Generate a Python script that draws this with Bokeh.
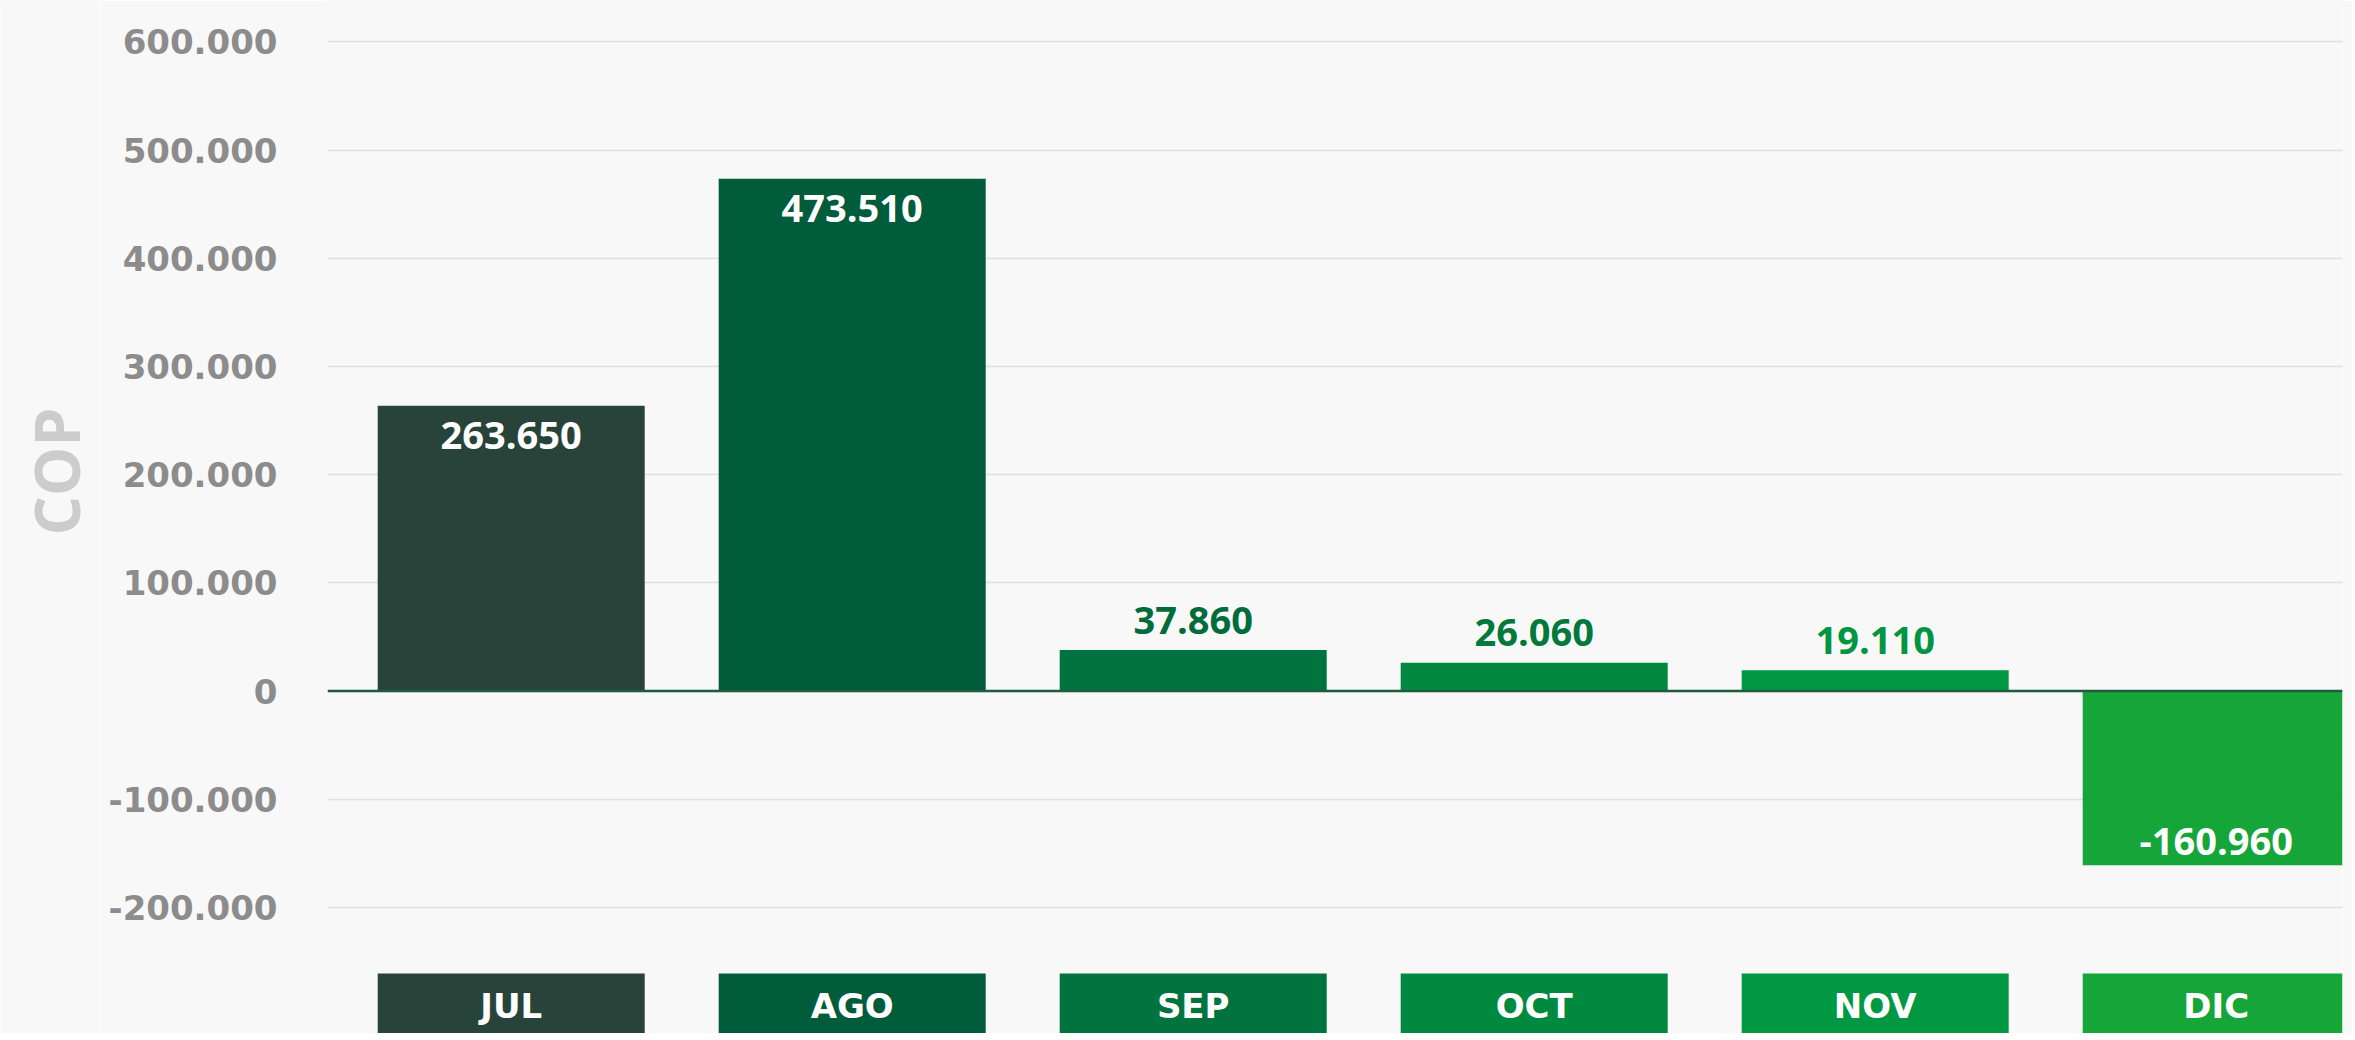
import math
from bokeh.plotting import figure
from bokeh.models import ColumnDataSource, Range1d, FixedTicker, CustomJSTickFormatter, Span, Spacer
from bokeh.layouts import column, row
from bokeh.core.properties import value
from bokeh.embed import file_html
from bokeh.resources import INLINE

# ---- data ----
months = ["JUL", "AGO", "SEP", "OCT", "NOV", "DIC"]
values = [263650, 473510, 37860, 26060, 19110, -160960]
y_ticks = [-200000, -100000, 0, 100000, 200000, 300000, 400000, 500000, 600000]
y_title = "COP"
bar_colors = ["#28443a", "#005c3a", "#00733f", "#00893f", "#009842", "#15a538"]
outside_label_colors = ["#ffffff", "#ffffff", "#006b3b", "#00793b", "#009540", "#ffffff"]

# ---- geometry (pixel mapping) ----
PX = 0.001082            # pixels per COP unit
ZERO_Y = 690.5           # zero line in figure pixels
MAIN_H = 1033
STRIP_H = 6
W = 2352
COP_W = 100
y_top = ZERO_Y / PX
y_bot = -(MAIN_H - ZERO_Y) / PX
box_top = -(973 - ZERO_Y) / PX
month_y = -(1005 - ZERO_Y) / PX
pitch = 341.0
FRAME_L = 327
FRAME_R = 2342
x_start = -(510.7 - FRAME_L) / pitch
x_end = x_start + (FRAME_R - FRAME_L) / pitch
bar_w = 267 / pitch

xs = list(range(len(months)))
label_txt = [f"{v:,}".replace(",", ".") for v in values]
inside = [abs(v) > 100000 for v in values]
offsets = []
for v, ins in zip(values, inside):
    if ins:
        offsets.append(30 if v > 0 else -24)
    else:
        offsets.append(-30)

src = ColumnDataSource(dict(x=xs, v=values, color=bar_colors, lab=label_txt,
                            lcol=outside_label_colors, off=offsets, m=months,
                            mb=[box_top] * len(xs), mbot=[y_bot - 5000] * len(xs),
                            my=[month_y] * len(xs)))

BG = "#f8f8f8"
p = figure(width=W - COP_W, height=MAIN_H, toolbar_location=None, output_backend="svg",
           x_range=Range1d(x_start, x_end), y_range=Range1d(y_bot, y_top),
           min_border_left=FRAME_L - COP_W, min_border_right=W - FRAME_R,
           min_border_top=0, min_border_bottom=0,
           background_fill_color=BG, border_fill_color=BG, outline_line_color=None)

p.xaxis.visible = False
p.xgrid.grid_line_color = None
ticker = FixedTicker(ticks=y_ticks)
p.yaxis.ticker = ticker
p.ygrid.ticker = ticker
p.ygrid.grid_line_color = "#dedede"
p.ygrid.grid_line_width = 1.5
p.yaxis.axis_line_color = None
p.yaxis.major_tick_line_color = None
p.yaxis.minor_tick_line_color = None
p.yaxis.major_tick_out = 0
p.yaxis.major_tick_in = 0
p.yaxis.major_label_standoff = 50
p.yaxis.major_label_text_font = "DejaVu Sans"
p.yaxis.major_label_text_font_style = "bold"
p.yaxis.major_label_text_font_size = "34px"
p.yaxis.major_label_text_color = "#8c8c8c"
p.yaxis.formatter = CustomJSTickFormatter(code="""
const s = Math.abs(tick).toFixed(0).replace(/\\B(?=(\\d{3})+(?!\\d))/g, '.');
return (tick < 0 ? '-' : '') + s;
""")

# bars
p.vbar(x="x", top="v", bottom=0, width=bar_w, fill_color="color", line_color=None, source=src)
# value labels
p.text(x="x", y="v", text="lab", y_offset="off", text_color="lcol", text_align="center",
       text_baseline="middle", text_font=value("Open Sans"), text_font_style="bold",
       text_font_size="38px", source=src)
# month boxes
p.vbar(x="x", top="mb", bottom="mbot", width=bar_w, fill_color="color", line_color=None, source=src)
p.text(x="x", y="my", text="m", text_color="#ffffff", text_align="center",
       text_baseline="middle", text_font=value("DejaVu Sans"), text_font_style="bold",
       text_font_size="34px", source=src)

p.add_layout(Span(location=0, dimension="width", line_color="#1f5c3f", line_width=2.5))

# narrow panel holding the rotated y title
cop = figure(width=COP_W, height=MAIN_H, toolbar_location=None, output_backend="svg",
             x_range=Range1d(0, COP_W), y_range=Range1d(0, MAIN_H), min_border=0,
             background_fill_color=BG, border_fill_color=BG, outline_line_color=None)
cop.axis.visible = False
cop.grid.visible = False
cop.text(x=[55], y=[MAIN_H - 471], text=[y_title], angle=math.pi / 2, text_align="center",
         text_baseline="middle", text_font=value("Open Sans"), text_font_style="bold",
         text_font_size="62px", text_color="#cccccc")

strip = figure(width=W - 21, height=STRIP_H, toolbar_location=None, output_backend="svg",
               x_range=Range1d(0, 1), y_range=Range1d(0, 1), min_border=0,
               background_fill_color="#005a3c", border_fill_color="#005a3c",
               outline_line_color=None)
strip.axis.visible = False
strip.grid.visible = False

layout = column(row(cop, p), row(Spacer(width=21, height=STRIP_H), strip))
open("out.html", "w").write(file_html(layout, INLINE))
